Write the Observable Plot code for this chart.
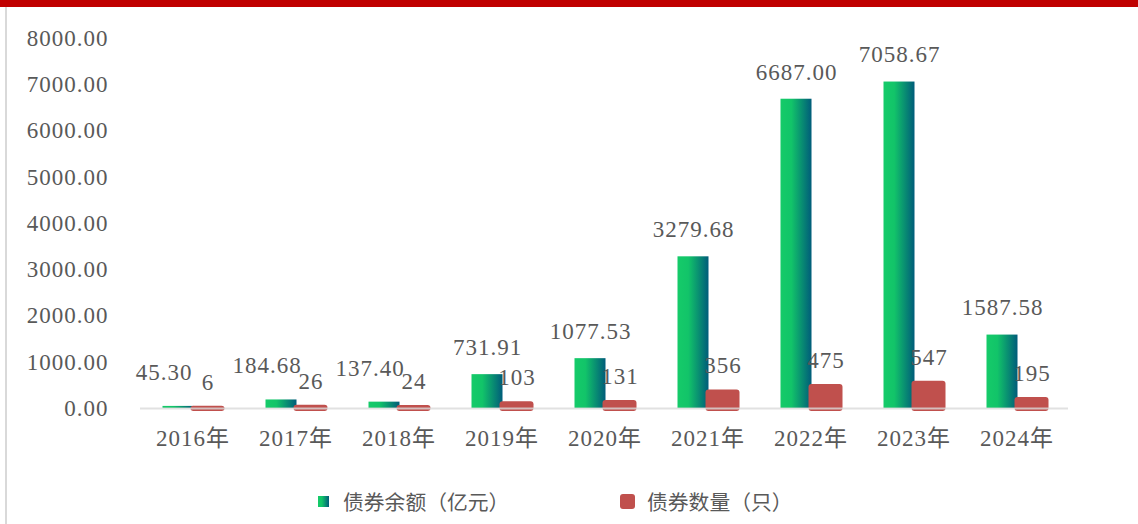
<!DOCTYPE html>
<html>
<head>
<meta charset="utf-8">
<script src="https://cdn.jsdelivr.net/npm/d3@7"></script>
<script src="https://cdn.jsdelivr.net/npm/@observablehq/plot@0.6"></script>
<style>
  html, body { margin: 0; padding: 0; background: #fff; }
  #wrap { position: relative; width: 1138px; height: 524px; overflow: hidden; background: #fff; }
  #topbar { position: absolute; left: 0; top: 0; width: 1138px; height: 7px; background: #C00000; }
  #leftline { position: absolute; left: 5px; top: 7px; width: 2px; bottom: 0; background: #D9D9D9; }
  #chart { position: absolute; left: 0; top: 0; }
  #legend { position: absolute; top: 486px; left: 0; width: 1138px; height: 30px;
            font-family: "Noto Sans CJK SC", "Noto Sans", sans-serif; font-size: 20.8px; color: #595959; }
  .item { position: absolute; top: 0; display: flex; align-items: center; height: 30px; }
  .sw1 { width: 11px; height: 11px; background: linear-gradient(to right, #15CB69 0%, #12C469 35%, #005C7A 100%); margin-right: 14px; }
  .sw2 { width: 15px; height: 15px; background: #C0504D; border-radius: 3px; margin-right: 12px; }
</style>
</head>
<body>
<div id="wrap">
  <div id="chart"></div>
  <div id="topbar"></div>
  <div id="leftline"></div>
  <div id="legend"></div>
</div>
<script>
const years = ["2016年","2017年","2018年","2019年","2020年","2021年","2022年","2023年","2024年"];
const balance = [45.30, 184.68, 137.40, 731.91, 1077.53, 3279.68, 6687.00, 7058.67, 1587.58];
const counts = [6, 26, 24, 103, 131, 356, 475, 547, 195];
const yTicks = [0, 1000, 2000, 3000, 4000, 5000, 6000, 7000, 8000];
const seriesNames = ["债券余额（亿元）", "债券数量（只）"];

const balData = years.map((y, i) => ({year: y, value: balance[i]}));
const cntData = years.map((y, i) => ({year: y, value: counts[i]}));

// labels of very short bars are nudged aside (as the original chart does) so they don't collide
const isShort = d => d.value < 500;
const balBig = balData.filter(d => !isShort(d));
const balSmall = balData.filter(isShort);

const font = "'Liberation Serif', 'Noto Sans CJK SC', serif";
const textColor = "#595959";
const fmt2 = d3.format(".2f");

const plot = Plot.plot({
  width: 1138,
  height: 470,
  marginTop: 38,
  marginBottom: 62,
  marginLeft: 140,
  marginRight: 70,
  style: { fontFamily: font, fontSize: "23px", color: textColor, background: "transparent", letterSpacing: "1px" },
  x: { domain: years, padding: 0, axis: null },
  y: { domain: [0, 8000], axis: null },
  marks: [
    Plot.axisY({ ticks: yTicks, tickFormat: fmt2, tickSize: 0, tickPadding: 32, fontSize: 23, fill: textColor, label: null }),
    Plot.axisX({ tickSize: 0, tickPadding: 21, fontSize: 23, fill: textColor, label: null }),
    Plot.barY(balData, { x: "year", y: "value", fill: "url(#greenGrad)", insetLeft: 21.5, insetRight: 50.5 }),
    Plot.barY(cntData, { x: "year", y: "value", fill: "#C0504D", insetLeft: 49.5, insetRight: 19.5, insetTop: -2, insetBottom: -3, rx: 3 }),
    Plot.ruleY([0], { stroke: "#D9D9D9", strokeWidth: 2, strokeOpacity: 0.8 }),
    Plot.text(balBig, { x: "year", y: "value", text: d => fmt2(d.value), dx: -14.5, dy: -27, fontSize: 23, fill: textColor }),
    Plot.text(balSmall, { x: "year", y: "value", text: d => fmt2(d.value), dx: -29, dy: -34, fontSize: 23, fill: textColor }),
    Plot.text(cntData, { x: "year", y: "value", text: d => String(d.value), dx: 15, dy: -26, fontSize: 23, fill: textColor })
  ]
});

const ns = "http://www.w3.org/2000/svg";
const defs = document.createElementNS(ns, "defs");
defs.innerHTML = `<linearGradient id="greenGrad" x1="0" y1="0" x2="1" y2="0">
  <stop offset="0" stop-color="#15CB69"/>
  <stop offset="0.35" stop-color="#12C469"/>
  <stop offset="1" stop-color="#005C7A"/>
</linearGradient>`;
plot.insertBefore(defs, plot.firstChild);
document.getElementById("chart").appendChild(plot);

const legend = document.getElementById("legend");
legend.innerHTML = `
  <div class="item" style="left:318px"><span class="sw1"></span><span>${seriesNames[0]}</span></div>
  <div class="item" style="left:620px"><span class="sw2"></span><span>${seriesNames[1]}</span></div>`;
</script>
</body>
</html>
